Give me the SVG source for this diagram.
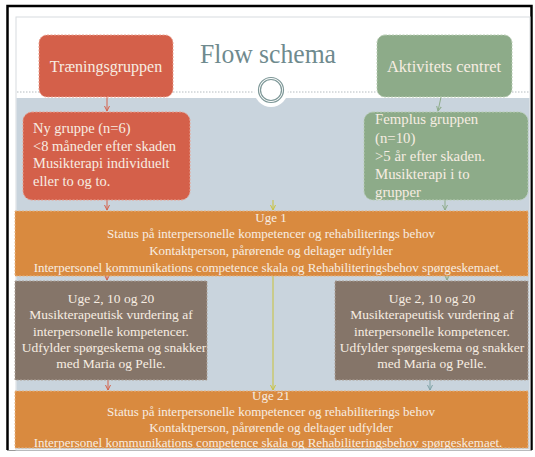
<svg xmlns="http://www.w3.org/2000/svg" width="535" height="457" viewBox="0 0 535 457">
<defs>
<style>
.t{font-family:"Liberation Serif","DejaVu Serif",serif;fill:#f7ede2}
.c{text-anchor:middle}
.red{fill:#d4604a;stroke:#e9a08f;stroke-width:1;stroke-dasharray:2 1.5}
.grn{fill:#8dab89;stroke:#b9cdb5;stroke-width:1;stroke-dasharray:2 1.5}
.org{fill:#d98a3f;stroke:#e8b583;stroke-width:1;stroke-dasharray:2 1.5}
.brn{fill:#857569;stroke:#ada197;stroke-width:1;stroke-dasharray:2 1.5}
.ln{fill:none;stroke-width:1}
</style>
<marker id="ar" markerWidth="6" markerHeight="6" refX="5" refY="3" orient="auto" markerUnits="userSpaceOnUse">
<path d="M0,0.5 L5,3 L0,5.5" fill="none" stroke="context-stroke" stroke-width="1"/>
</marker>
</defs>
<rect x="0" y="0" width="535" height="457" fill="#ffffff"/>
<path d="M7.5,450 L7.5,6 L531.5,6 L531.5,450" fill="none" stroke="#000000" stroke-width="2.5"/>
<line x1="7" y1="450.5" x2="532" y2="450.5" stroke="#9a9a9a" stroke-width="1"/>
<rect x="16" y="17" width="514" height="433" fill="#ffffff" stroke="#d8dcdf" stroke-width="1"/>
<rect x="16.5" y="98" width="513" height="351" fill="#c9d4dd"/>
<line x1="17" y1="92" x2="529" y2="92" stroke="#b5bcc0" stroke-width="1" stroke-dasharray="1.5 1.5"/>
<g id="ring">
<circle cx="271" cy="90" r="17" fill="#ffffff"/>
<circle cx="271" cy="90" r="12.5" fill="none" stroke="#7d9797" stroke-width="1.2"/>
<circle cx="271" cy="90" r="10.5" fill="none" stroke="#7d9797" stroke-width="1.2"/>
</g>
<text id="title" x="268" y="63" class="c" font-family="Liberation Serif, DejaVu Serif, serif" font-size="28" fill="#6f8a8e" textLength="136" lengthAdjust="spacingAndGlyphs">Flow schema</text>
<g id="connectors">
<line class="ln" x1="107" y1="97" x2="107" y2="111" stroke="#d4604a" marker-end="url(#ar)"/>
<line class="ln" x1="441" y1="97" x2="438" y2="111" stroke="#8dab89" marker-end="url(#ar)"/>
<line class="ln" x1="107" y1="200" x2="107" y2="210" stroke="#d4604a" marker-end="url(#ar)"/>
<line class="ln" x1="273" y1="200" x2="273" y2="210" stroke="#c9c23a" marker-end="url(#ar)"/>
<line class="ln" x1="445" y1="200" x2="445" y2="210" stroke="#8dab89" marker-end="url(#ar)"/>
<line class="ln" x1="107" y1="276" x2="107" y2="280" stroke="#d4604a" marker-end="url(#ar)"/>
<line class="ln" x1="447" y1="276" x2="447" y2="280" stroke="#8dab89" marker-end="url(#ar)"/>
<line class="ln" x1="273" y1="276" x2="273" y2="390" stroke="#c9c23a" marker-end="url(#ar)"/>
<line class="ln" x1="108" y1="380" x2="108" y2="390" stroke="#d4604a" marker-end="url(#ar)"/>
<line class="ln" x1="430" y1="380" x2="430" y2="390" stroke="#7fa3a6" marker-end="url(#ar)"/>
</g>
<g id="traeningsgruppen">
<rect class="red" x="39" y="35" width="134" height="62" rx="8"/>
<text class="t c" x="106" y="72" font-size="16">Træningsgruppen</text>
</g>
<g id="aktivitets">
<rect class="grn" x="377" y="35" width="135" height="62" rx="8"/>
<text class="t c" x="444" y="72" font-size="16.5">Aktivitets centret</text>
</g>
<g id="nygruppe">
<rect class="red" x="23" y="112" width="167" height="88" rx="9"/>
<text class="t" x="33" y="133" font-size="14.5">Ny gruppe (n=6)</text>
<text class="t" x="33" y="151" font-size="14.5">&lt;8 måneder efter skaden</text>
<text class="t" x="33" y="168" font-size="14.5">Musikterapi individuelt</text>
<text class="t" x="33" y="186" font-size="14.5">eller to og to.</text>
</g>
<g id="femplus">
<rect class="grn" x="364" y="112" width="164" height="88" rx="9"/>
<text class="t" x="375" y="124" font-size="14.8">Femplus gruppen</text>
<text class="t" x="375" y="143" font-size="14.8">(n=10)</text>
<text class="t" x="375" y="161" font-size="14.8">&gt;5 år efter skaden.</text>
<text class="t" x="375" y="179" font-size="14.8">Musikterapi i to</text>
<text class="t" x="375" y="197" font-size="14.8">grupper</text>
</g>
<g id="uge1">
<rect class="org" x="15" y="211" width="513" height="65"/>
<text class="t c" x="271" y="222" font-size="13">Uge 1</text>
<text class="t c" x="271" y="238" font-size="13">Status på interpersonelle kompetencer og rehabiliterings behov</text>
<text class="t c" x="271" y="255" font-size="13">Kontaktperson, pårørende og deltager udfylder</text>
<text class="t c" x="268" y="272" font-size="13">Interpersonel kommunikations competence skala og Rehabiliteringsbehov spørgeskemaet.</text>
</g>
<g id="uge2left">
<rect class="brn" x="15" y="281" width="192" height="99"/>
<text class="t c" x="111" y="303" font-size="13.5">Uge 2, 10 og 20</text>
<text class="t c" x="111" y="319" font-size="13.5">Musikterapeutisk vurdering af</text>
<text class="t c" x="111" y="336" font-size="13.5">interpersonelle kompetencer.</text>
<text class="t c" x="114" y="352" font-size="13.5">Udfylder spørgeskema og snakker</text>
<text class="t c" x="111" y="368" font-size="13.5">med Maria og Pelle.</text>
</g>
<g id="uge2right">
<rect class="brn" x="335" y="281" width="193" height="99"/>
<text class="t c" x="432" y="303" font-size="13.5">Uge 2, 10 og 20</text>
<text class="t c" x="432" y="319" font-size="13.5">Musikterapeutisk vurdering af</text>
<text class="t c" x="432" y="336" font-size="13.5">interpersonelle kompetencer.</text>
<text class="t c" x="432" y="352" font-size="13.5">Udfylder spørgeskema og snakker</text>
<text class="t c" x="432" y="368" font-size="13.5">med Maria og Pelle.</text>
</g>
<g id="uge21">
<rect class="org" x="15" y="391" width="513" height="57"/>
<text class="t c" x="271" y="400" font-size="13">Uge 21</text>
<text class="t c" x="271" y="416" font-size="13">Status på interpersonelle kompetencer og rehabiliterings behov</text>
<text class="t c" x="271" y="432" font-size="13">Kontaktperson, pårørende og deltager udfylder</text>
<text class="t c" x="268" y="447" font-size="13">Interpersonel kommunikations competence skala og Rehabiliteringsbehov spørgeskemaet.</text>
</g>
</svg>
